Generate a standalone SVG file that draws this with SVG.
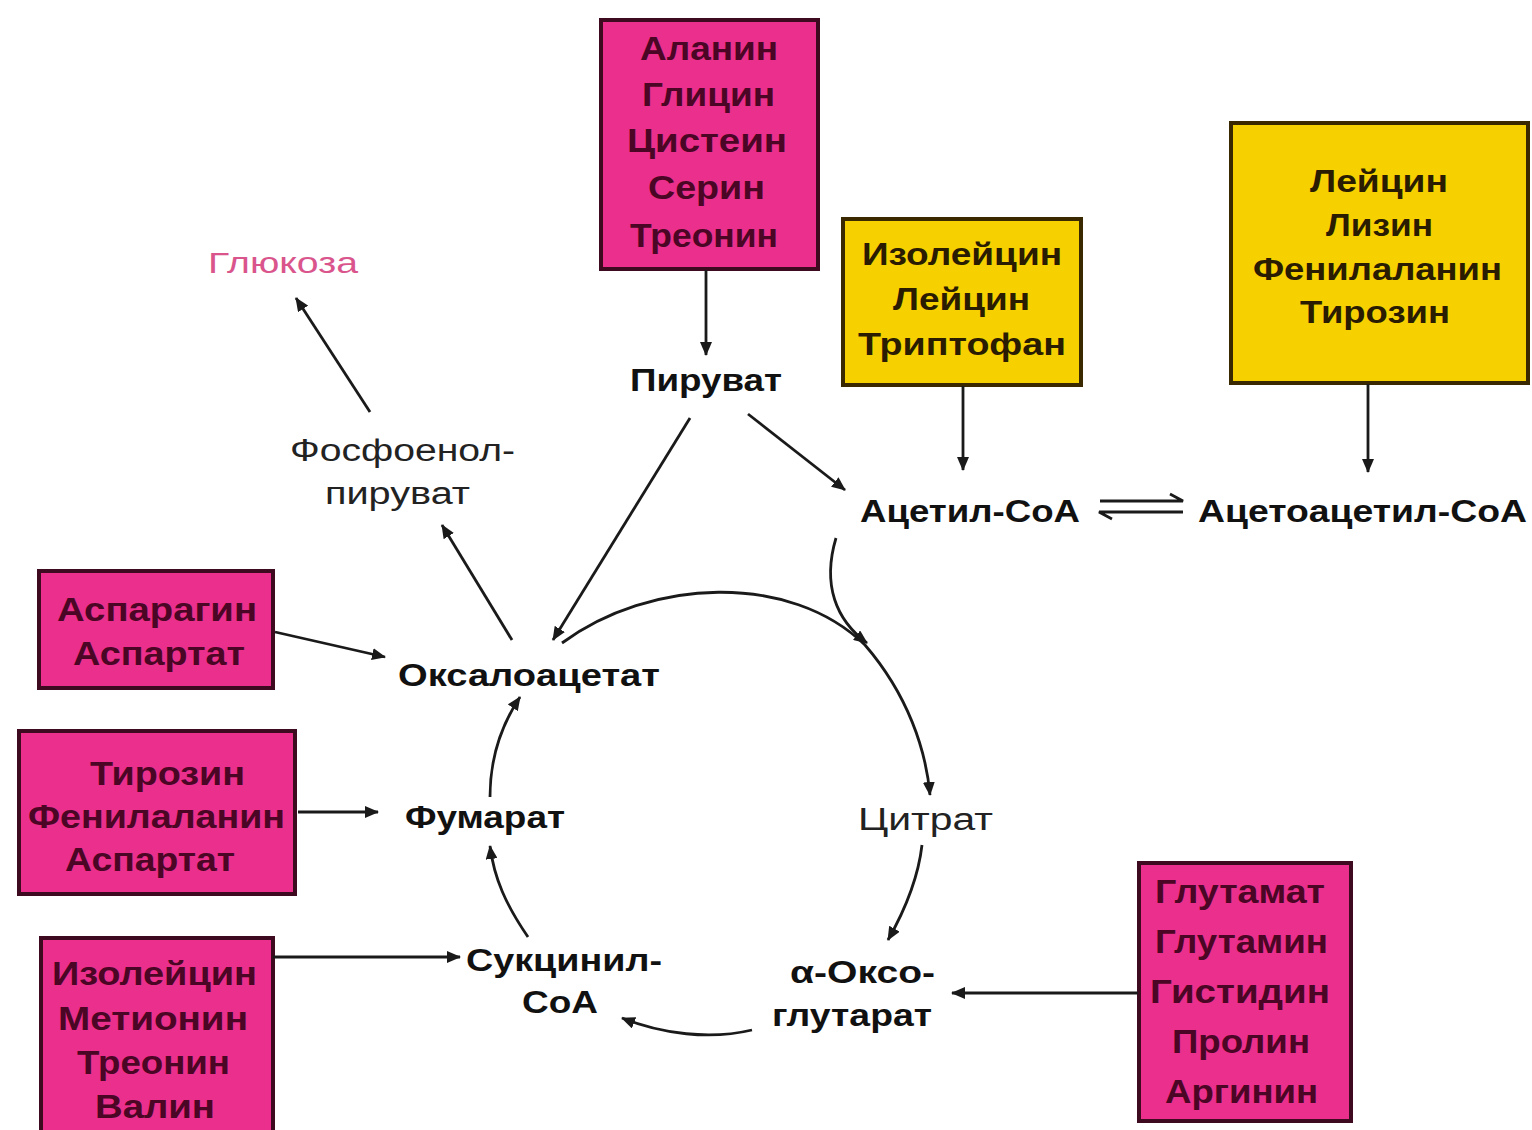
<svg xmlns="http://www.w3.org/2000/svg" width="1532" height="1130" viewBox="0 0 1532 1130">
<defs>
<style>
.pink{fill:#ea2f8c;stroke:#3d0a20;stroke-width:4}
.yel{fill:#f7d000;stroke:#3a2800;stroke-width:4}
.pt{font-family:"Liberation Sans",Arial,sans-serif;font-weight:bold;font-size:33px;fill:#4a0624;text-anchor:start}
.yt{font-family:"Liberation Sans",Arial,sans-serif;font-weight:bold;font-size:31px;fill:#2a1c00;text-anchor:start}
.lb{font-family:"Liberation Sans",Arial,sans-serif;font-weight:bold;font-size:31px;fill:#111}
.lr{font-family:"Liberation Sans",Arial,sans-serif;font-size:31px;fill:#222}
.gl{font-family:"Liberation Sans",Arial,sans-serif;font-size:30px;fill:#d9558c}
.c{fill:none;stroke:#1a1a1a;stroke-width:2.8}
</style>
<marker id="ah" markerUnits="userSpaceOnUse" markerWidth="14" markerHeight="12" refX="13" refY="6" orient="auto">
<path d="M0,0 L14,6 L0,12 Z" fill="#1a1a1a"/>
</marker>
</defs>
<rect width="1532" height="1130" fill="#ffffff"/>

<g id="box-top">
<rect class="pink" x="601" y="20" width="217" height="249"/>
<text class="pt" x="640" y="60" textLength="138" lengthAdjust="spacingAndGlyphs">Аланин</text>
<text class="pt" x="642" y="106" textLength="133" lengthAdjust="spacingAndGlyphs">Глицин</text>
<text class="pt" x="627" y="152" textLength="160" lengthAdjust="spacingAndGlyphs">Цистеин</text>
<text class="pt" x="648" y="199" textLength="117" lengthAdjust="spacingAndGlyphs">Серин</text>
<text class="pt" x="630" y="247" textLength="148" lengthAdjust="spacingAndGlyphs">Треонин</text>
</g>

<g id="box-yellow1">
<rect class="yel" x="843" y="219" width="238" height="166"/>
<text class="yt" x="862" y="265" textLength="200" lengthAdjust="spacingAndGlyphs">Изолейцин</text>
<text class="yt" x="893" y="310" textLength="137" lengthAdjust="spacingAndGlyphs">Лейцин</text>
<text class="yt" x="858" y="355" textLength="208" lengthAdjust="spacingAndGlyphs">Триптофан</text>
</g>

<g id="box-yellow2">
<rect class="yel" x="1231" y="123" width="297" height="260"/>
<text class="yt" x="1310" y="192" textLength="138" lengthAdjust="spacingAndGlyphs">Лейцин</text>
<text class="yt" x="1326" y="236" textLength="107" lengthAdjust="spacingAndGlyphs">Лизин</text>
<text class="yt" x="1253" y="280" textLength="249" lengthAdjust="spacingAndGlyphs">Фенилаланин</text>
<text class="yt" x="1300" y="323" textLength="150" lengthAdjust="spacingAndGlyphs">Тирозин</text>
</g>

<g id="box-left1">
<rect class="pink" x="39" y="571" width="234" height="117"/>
<text class="pt" x="57" y="621" textLength="200" lengthAdjust="spacingAndGlyphs">Аспарагин</text>
<text class="pt" x="73" y="665" textLength="172" lengthAdjust="spacingAndGlyphs">Аспартат</text>
</g>

<g id="box-left2">
<rect class="pink" x="19" y="731" width="276" height="163"/>
<text class="pt" x="90" y="785" textLength="155" lengthAdjust="spacingAndGlyphs">Тирозин</text>
<text class="pt" x="28" y="828" textLength="257" lengthAdjust="spacingAndGlyphs">Фенилаланин</text>
<text class="pt" x="65" y="871" textLength="170" lengthAdjust="spacingAndGlyphs">Аспартат</text>
</g>

<g id="box-left3">
<rect class="pink" x="41" y="938" width="232" height="200"/>
<text class="pt" x="52" y="985" textLength="205" lengthAdjust="spacingAndGlyphs">Изолейцин</text>
<text class="pt" x="58" y="1030" textLength="190" lengthAdjust="spacingAndGlyphs">Метионин</text>
<text class="pt" x="77" y="1074" textLength="153" lengthAdjust="spacingAndGlyphs">Треонин</text>
<text class="pt" x="95" y="1118" textLength="120" lengthAdjust="spacingAndGlyphs">Валин</text>
</g>

<g id="box-right">
<rect class="pink" x="1139" y="863" width="212" height="258"/>
<text class="pt" x="1155" y="903" textLength="170" lengthAdjust="spacingAndGlyphs">Глутамат</text>
<text class="pt" x="1155" y="953" textLength="173" lengthAdjust="spacingAndGlyphs">Глутамин</text>
<text class="pt" x="1150" y="1003" textLength="180" lengthAdjust="spacingAndGlyphs">Гистидин</text>
<text class="pt" x="1172" y="1053" textLength="138" lengthAdjust="spacingAndGlyphs">Пролин</text>
<text class="pt" x="1165" y="1103" textLength="153" lengthAdjust="spacingAndGlyphs">Аргинин</text>
</g>

<g id="glucose"><text class="gl" x="208" y="273" textLength="150" lengthAdjust="spacingAndGlyphs">Глюкоза</text></g>
<g id="pep">
<text class="lr" x="290" y="461" textLength="225" lengthAdjust="spacingAndGlyphs">Фосфоенол-</text>
<text class="lr" x="325" y="504" textLength="145" lengthAdjust="spacingAndGlyphs">пируват</text>
</g>
<g id="pyruvate"><text class="lb" x="630" y="391" textLength="152" lengthAdjust="spacingAndGlyphs">Пируват</text></g>
<g id="acetyl-coa"><text class="lb" x="860" y="522" textLength="220" lengthAdjust="spacingAndGlyphs">Ацетил-CoA</text></g>
<g id="acetoacetyl-coa"><text class="lb" x="1198" y="522" textLength="329" lengthAdjust="spacingAndGlyphs">Ацетоацетил-CoA</text></g>
<g id="oxaloacetate"><text class="lb" x="398" y="686" textLength="262" lengthAdjust="spacingAndGlyphs">Оксалоацетат</text></g>
<g id="fumarate"><text class="lb" x="405" y="828" textLength="160" lengthAdjust="spacingAndGlyphs">Фумарат</text></g>
<g id="citrate"><text class="lr" x="858" y="830" textLength="135" lengthAdjust="spacingAndGlyphs">Цитрат</text></g>
<g id="succinyl-coa">
<text class="lb" x="466" y="971" textLength="196" lengthAdjust="spacingAndGlyphs">Сукцинил-</text>
<text class="lb" x="522" y="1013" textLength="76" lengthAdjust="spacingAndGlyphs">CoA</text>
</g>
<g id="oxoglutarate">
<text class="lb" x="790" y="983" textLength="145" lengthAdjust="spacingAndGlyphs">α-Оксо-</text>
<text class="lb" x="772" y="1026" textLength="160" lengthAdjust="spacingAndGlyphs">глутарат</text>
</g>

<g id="connectors">
<path class="c" marker-end="url(#ah)" d="M706,270 L706,355"/>
<path class="c" marker-end="url(#ah)" d="M963,386 L963,470"/>
<path class="c" marker-end="url(#ah)" d="M1368,384 L1368,472"/>
<path class="c" marker-end="url(#ah)" d="M748,414 L845,490"/>
<path class="c" marker-end="url(#ah)" d="M690,418 L553,640"/>
<path class="c" marker-end="url(#ah)" d="M370,412 L296,298"/>
<path class="c" marker-end="url(#ah)" d="M512,640 L442,525"/>
<path class="c" marker-end="url(#ah)" d="M275,632 L385,657"/>
<path class="c" marker-end="url(#ah)" d="M298,812 L378,812"/>
<path class="c" marker-end="url(#ah)" d="M273,957 L460,957"/>
<path class="c" marker-end="url(#ah)" d="M1138,993 L952,993"/>
<path class="c" marker-end="url(#ah)" d="M562,643 C650,578 790,572 865,645 C908,695 926,750 930,795"/>
<path class="c" marker-end="url(#ah)" d="M836,538 C822,585 836,620 867,643"/>
<path class="c" marker-end="url(#ah)" d="M922,845 C918,880 905,910 888,940"/>
<path class="c" marker-end="url(#ah)" d="M752,1030 C710,1040 662,1034 622,1018"/>
<path class="c" marker-end="url(#ah)" d="M528,937 C506,905 494,878 490,846"/>
<path class="c" marker-end="url(#ah)" d="M490,797 C490,760 500,727 520,697"/>
<path class="c" d="M1100,501 L1183,501 L1170,494"/>
<path class="c" d="M1183,512 L1099,512 L1112,519"/>
</g>
</svg>
